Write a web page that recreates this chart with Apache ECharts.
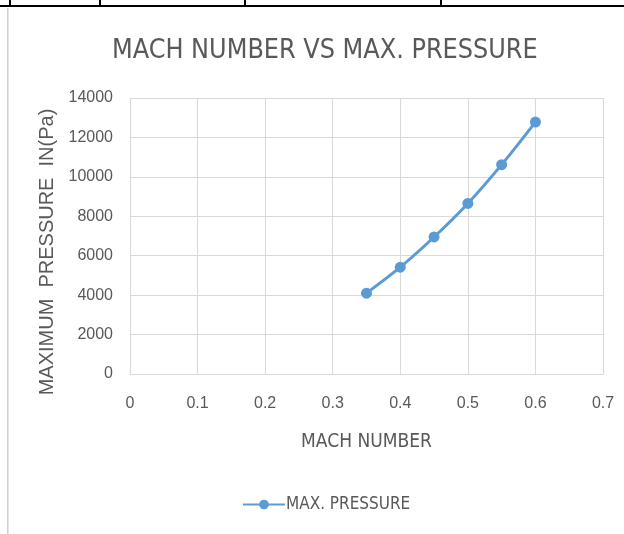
<!DOCTYPE html>
<html><head><meta charset="utf-8">
<script src="https://cdn.jsdelivr.net/npm/echarts@6/dist/echarts.min.js"></script>
<style>html,body{margin:0;padding:0;background:#fff}#c{width:624px;height:534px}</style>
</head><body><div id="c"></div>
<script>
const machNumbers = [0.35, 0.4, 0.45, 0.5, 0.55, 0.6];
const maxPressure = [4100, 5420, 6950, 8650, 10620, 12780];
const seriesName = 'MAX. PRESSURE';
const titleText = 'MACH NUMBER VS MAX. PRESSURE';
const xAxisName = 'MACH NUMBER';
const yAxisName = 'MAXIMUM  PRESSURE  IN(Pa)';

const NARROW = '"Liberation Sans Narrow", "DejaVu Sans Condensed", "Liberation Sans", sans-serif';
const REG = '"Liberation Sans", Arial, sans-serif';
const chart = echarts.init(document.getElementById('c'));
chart.setOption({
  animation: false,
  textStyle: { fontFamily: NARROW },
  title: {
    text: titleText, left: 107, top: 33,
    textStyle: { fontFamily: NARROW, fontSize: 26.7, fontWeight: 'normal', color: '#595959' }
  },
  legend: {
    top: 491, left: 237,
    itemWidth: 42, itemHeight: 12, itemGap: 4,
    textStyle: { fontFamily: NARROW, fontSize: 17, color: '#595959', padding: [0, 0, 0, -4] },
    data: [{ name: seriesName }]
  },
  grid: { left: 130, right: 21, top: 98, bottom: 160 },
  xAxis: {
    type: 'value', min: 0, max: 0.7, interval: 0.1,
    name: xAxisName, nameLocation: 'middle', nameGap: 59,
    nameTextStyle: { fontFamily: NARROW, fontSize: 19, color: '#595959' },
    axisLine: { lineStyle: { color: '#d9d9d9' } },
    axisTick: { show: false },
    axisLabel: { fontFamily: REG, fontSize: 16, color: '#595959', margin: 22,
      formatter: v => (Math.round(v * 10) / 10).toString() },
    splitLine: { show: true, lineStyle: { color: '#d9d9d9' } }
  },
  yAxis: {
    type: 'value', min: 0, max: 14000, interval: 2000,
    name: yAxisName, nameLocation: 'middle', nameGap: 72,
    nameTextStyle: { fontFamily: REG, fontSize: 20, color: '#595959', padding: [0, 0, 0, -32] },
    axisLine: { show: false },
    axisTick: { show: false },
    axisLabel: { fontFamily: REG, fontSize: 16, color: '#595959', margin: 17,
      formatter: v => String(v) },
    splitLine: { lineStyle: { color: '#d9d9d9' } }
  },
  series: [{
    name: seriesName, type: 'line', smooth: 0.3,
    data: machNumbers.map((m, i) => [m, maxPressure[i]]),
    symbol: 'circle', symbolSize: 11,
    lineStyle: { color: '#5b9bd5', width: 3 },
    itemStyle: { color: '#5b9bd5' }
  }],
  graphic: [
    { type: 'rect', shape: { x: 0, y: 5, width: 624, height: 2 }, style: { fill: '#000' } },
    { type: 'rect', shape: { x: 9, y: 0, width: 2, height: 6 }, style: { fill: '#000' } },
    { type: 'rect', shape: { x: 99, y: 0, width: 2, height: 6 }, style: { fill: '#000' } },
    { type: 'rect', shape: { x: 244, y: 0, width: 2, height: 6 }, style: { fill: '#000' } },
    { type: 'rect', shape: { x: 440, y: 0, width: 2, height: 6 }, style: { fill: '#000' } },
    { type: 'rect', shape: { x: 7, y: 8, width: 1.5, height: 526 }, style: { fill: '#d0d0d0' } }
  ]
});
</script></body></html>
